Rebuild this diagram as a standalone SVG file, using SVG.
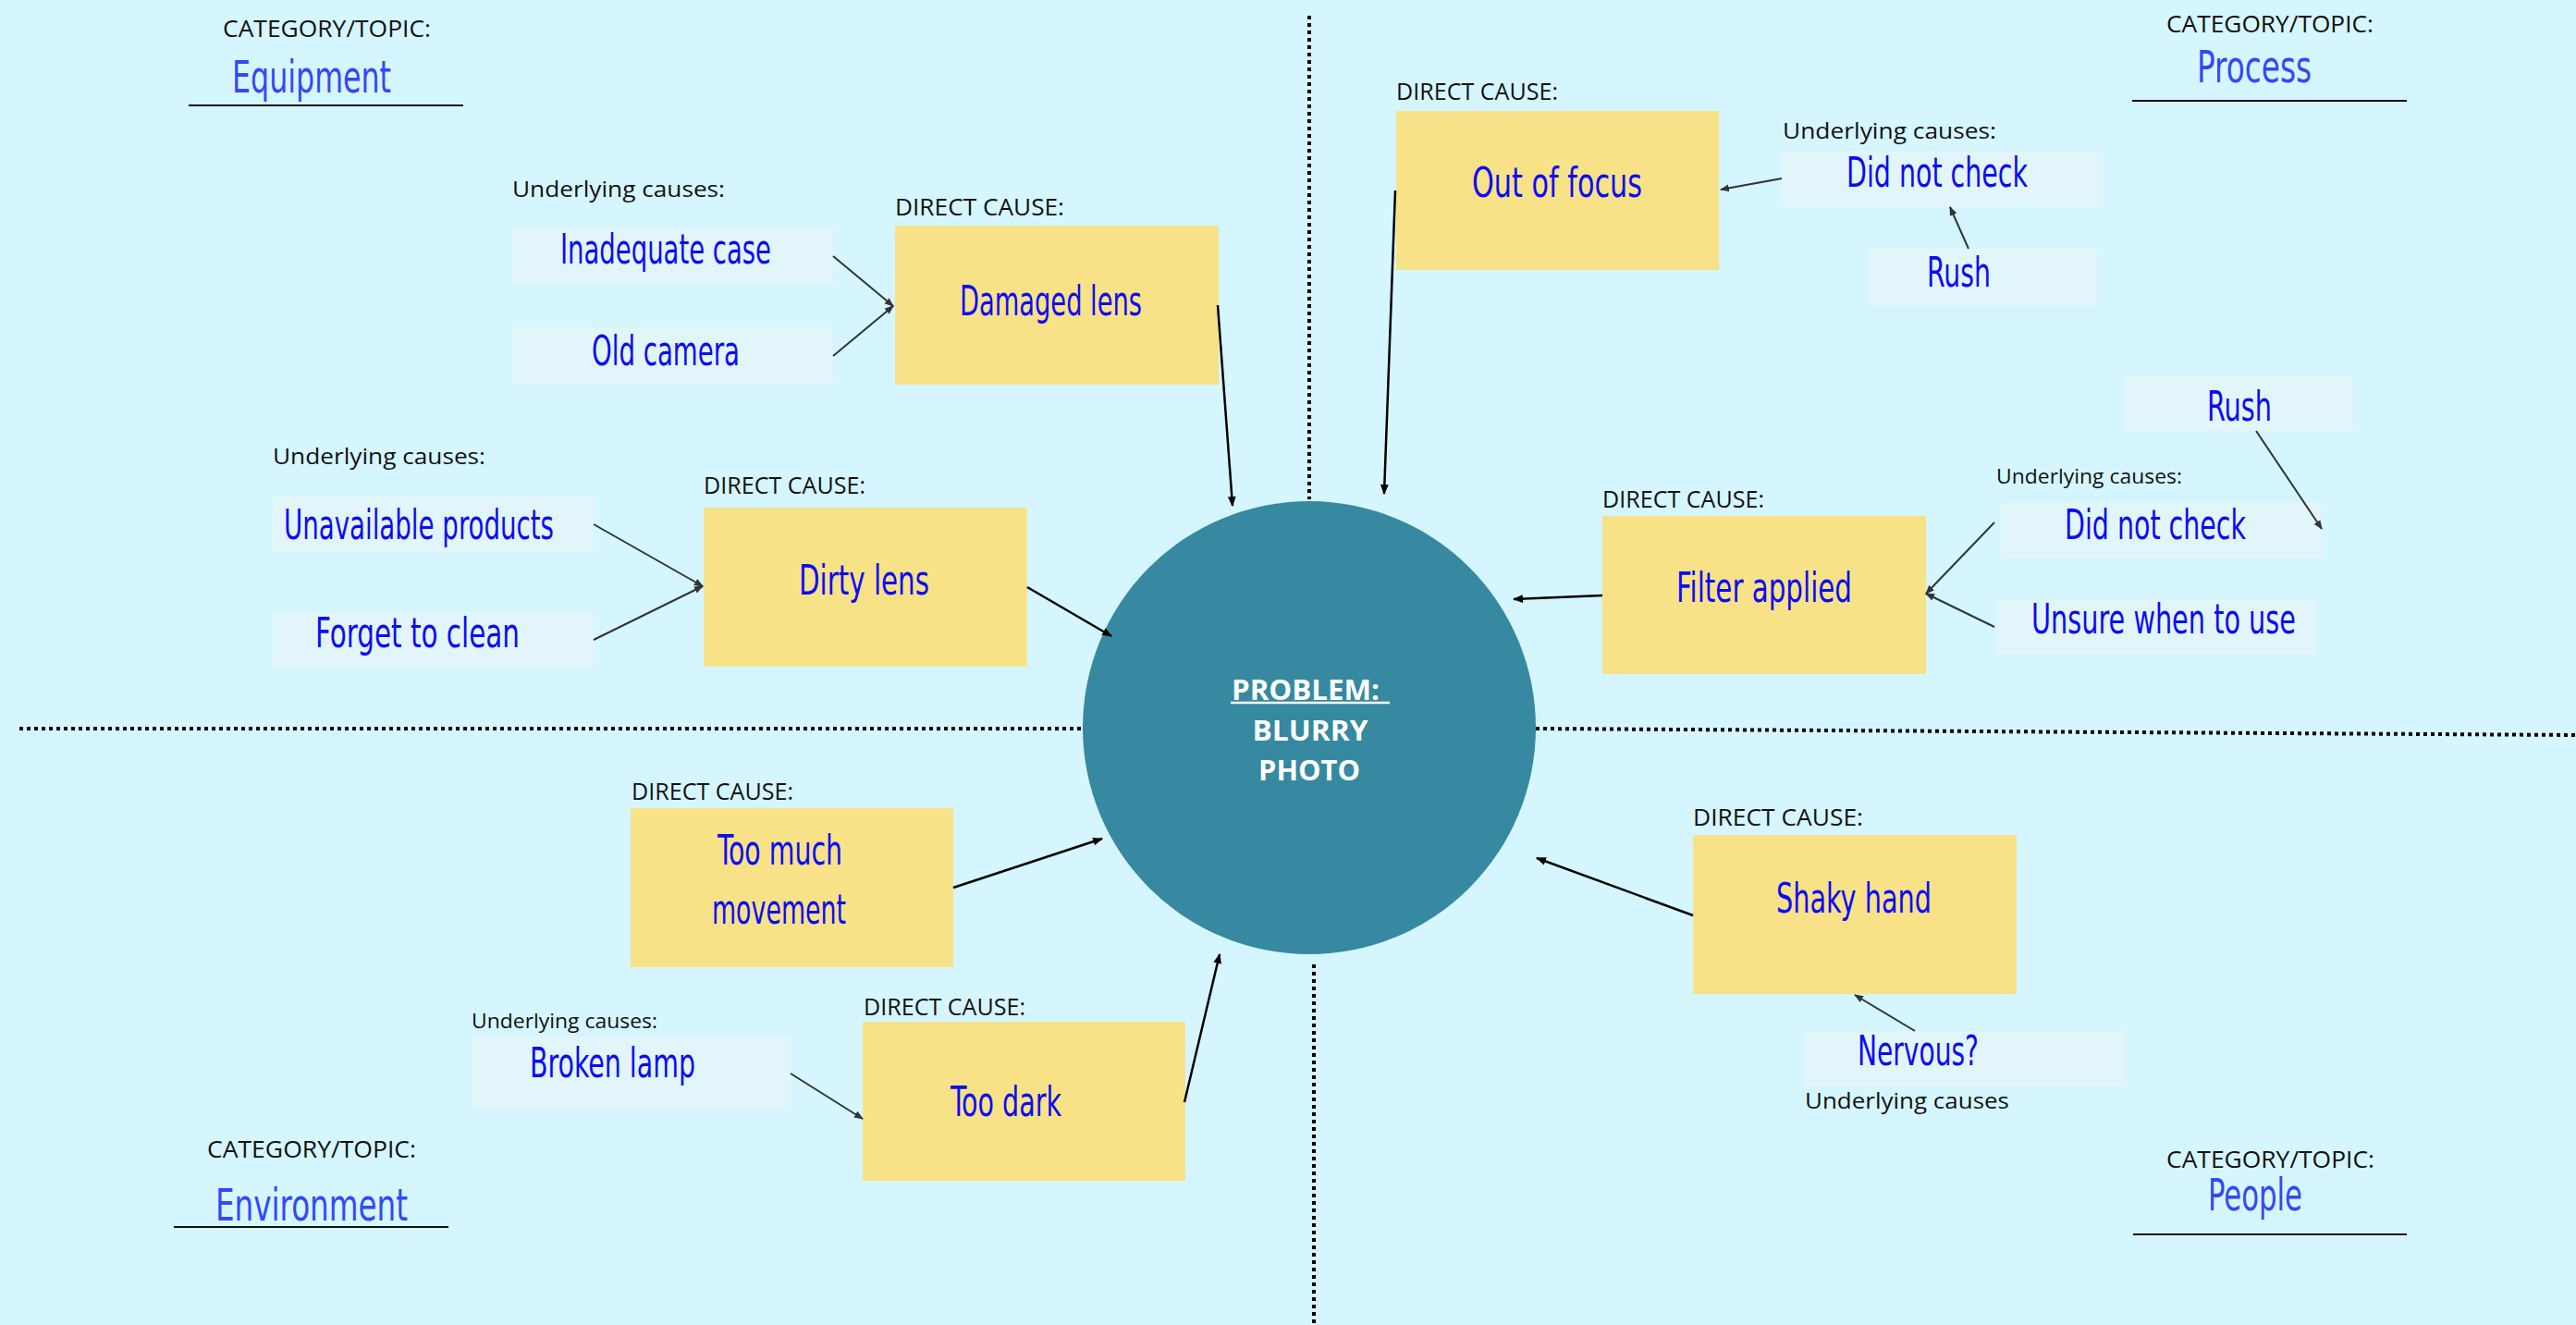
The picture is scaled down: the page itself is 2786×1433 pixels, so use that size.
<svg xmlns="http://www.w3.org/2000/svg" width="2786" height="1433" viewBox="0 0 2786 1433">
<style>
.lbl{font-family:"Open Sans","Liberation Sans",sans-serif;font-size:25px;fill:#111}
.lbls{font-family:"Open Sans","Liberation Sans",sans-serif;font-size:24px;fill:#111}
.lblx{font-family:"Open Sans","Liberation Sans",sans-serif;font-size:21px;fill:#111}
.hw{font-family:"Liberation Sans Narrow","DejaVu Sans Condensed","Liberation Sans",sans-serif;font-size:44px;fill:#0c0cf2}
.cat{font-family:"Liberation Sans Narrow","DejaVu Sans Condensed","Liberation Sans",sans-serif;font-size:48px;fill:#3448f7}
.sticky{fill:#F8E288}
.ubox{fill:#E2F5FA}
.uline{stroke:#111;stroke-width:2}
.cu{stroke:#333;stroke-width:2;fill:none;marker-end:url(#ah)}
.cd{stroke:#000;stroke-width:2.5;fill:none;marker-end:url(#ahd)}
.dots{stroke:#000;stroke-width:4;stroke-dasharray:4 4;fill:none}
.prob{font-family:"Open Sans","Liberation Sans",sans-serif;font-size:30px;font-weight:bold;fill:#fff}
</style>
<defs>
<marker id="ah" viewBox="0 0 10 10" refX="9" refY="5" markerWidth="10" markerHeight="10" markerUnits="userSpaceOnUse" orient="auto"><path d="M0,1 L10,5 L0,9 z" fill="#333"/></marker>
<marker id="ahd" viewBox="0 0 10 10" refX="9" refY="5" markerWidth="11" markerHeight="11" markerUnits="userSpaceOnUse" orient="auto"><path d="M0,1 L10,5 L0,9 z" fill="#000"/></marker>
</defs>
<rect x="0" y="0" width="2786" height="1433" fill="#D5F6FF"/>

<g id="dividers">
<line class="dots" x1="1416" y1="17" x2="1416" y2="540"/>
<line class="dots" x1="1421" y1="1043" x2="1421" y2="1433"/>
<line class="dots" x1="21" y1="788" x2="1172" y2="788"/>
<line class="dots" x1="1661" y1="788" x2="2786" y2="795"/>
</g>

<g id="cat-equipment">
<text class="lbl" x="241" y="40" textLength="225" lengthAdjust="spacingAndGlyphs">CATEGORY/TOPIC:</text>
<text class="cat" x="251" y="100" textLength="172" lengthAdjust="spacingAndGlyphs">Equipment</text>
<line class="uline" x1="204" y1="114" x2="501" y2="114"/>
</g>
<g id="cat-process">
<text class="lbl" x="2343" y="35" textLength="224" lengthAdjust="spacingAndGlyphs">CATEGORY/TOPIC:</text>
<text class="cat" x="2376" y="89" textLength="124" lengthAdjust="spacingAndGlyphs">Process</text>
<line class="uline" x1="2306" y1="109" x2="2603" y2="109"/>
</g>
<g id="cat-environment">
<text class="lbl" x="224" y="1252" textLength="226" lengthAdjust="spacingAndGlyphs">CATEGORY/TOPIC:</text>
<text class="cat" x="233" y="1320" textLength="208" lengthAdjust="spacingAndGlyphs">Environment</text>
<line class="uline" x1="188" y1="1327" x2="485" y2="1327"/>
</g>
<g id="cat-people">
<text class="lbl" x="2343" y="1263" textLength="225" lengthAdjust="spacingAndGlyphs">CATEGORY/TOPIC:</text>
<text class="cat" x="2388" y="1309" textLength="102" lengthAdjust="spacingAndGlyphs">People</text>
<line class="uline" x1="2307" y1="1335" x2="2603" y2="1335"/>
</g>

<g id="problem">
<circle cx="1416" cy="787" r="245" fill="#3689A0"/>
<text class="prob" x="1412" y="757" text-anchor="middle" textLength="160" lengthAdjust="spacingAndGlyphs">PROBLEM:</text>
<line x1="1331" y1="760" x2="1503" y2="760" stroke="#fff" stroke-width="2.5"/>
<text class="prob" x="1417" y="801" text-anchor="middle" textLength="125" lengthAdjust="spacingAndGlyphs">BLURRY</text>
<text class="prob" x="1416" y="844" text-anchor="middle" textLength="110" lengthAdjust="spacingAndGlyphs">PHOTO</text>
</g>

<!-- Equipment -->
<g id="label-ul-equipment-1"><text class="lbls" x="554" y="213" textLength="230" lengthAdjust="spacingAndGlyphs">Underlying causes:</text></g>
<g id="ul-inadequate-case">
<rect class="ubox" x="554" y="246" width="347" height="61"/>
<text class="hw" x="606" y="285" textLength="228" lengthAdjust="spacingAndGlyphs">Inadequate case</text>
</g>
<g id="ul-old-camera">
<rect class="ubox" x="554" y="354" width="347" height="61"/>
<text class="hw" x="640" y="395" textLength="160" lengthAdjust="spacingAndGlyphs">Old camera</text>
</g>
<g id="dc-damaged-lens">
<text class="lbl" x="968" y="233" textLength="183" lengthAdjust="spacingAndGlyphs">DIRECT CAUSE:</text>
<rect class="sticky" x="968" y="244" width="350" height="172"/>
<text class="hw" x="1038" y="341" textLength="197" lengthAdjust="spacingAndGlyphs">Damaged lens</text>
</g>
<g id="label-ul-equipment-2"><text class="lbls" x="295" y="502" textLength="230" lengthAdjust="spacingAndGlyphs">Underlying causes:</text></g>
<g id="ul-unavailable-products">
<rect class="ubox" x="295" y="537" width="347" height="61"/>
<text class="hw" x="307" y="583" textLength="292" lengthAdjust="spacingAndGlyphs">Unavailable products</text>
</g>
<g id="ul-forget-to-clean">
<rect class="ubox" x="295" y="662" width="347" height="61"/>
<text class="hw" x="341" y="700" textLength="221" lengthAdjust="spacingAndGlyphs">Forget to clean</text>
</g>
<g id="dc-dirty-lens">
<text class="lbl" x="761" y="534" textLength="175" lengthAdjust="spacingAndGlyphs">DIRECT CAUSE:</text>
<rect class="sticky" x="761" y="549" width="350" height="172"/>
<text class="hw" x="864" y="643" textLength="141" lengthAdjust="spacingAndGlyphs">Dirty lens</text>
</g>

<!-- Process -->
<g id="dc-out-of-focus">
<text class="lbl" x="1510" y="108" textLength="175" lengthAdjust="spacingAndGlyphs">DIRECT CAUSE:</text>
<rect class="sticky" x="1510" y="120" width="349" height="172"/>
<text class="hw" x="1592" y="213" textLength="184" lengthAdjust="spacingAndGlyphs">Out of focus</text>
</g>
<g id="label-ul-process-1"><text class="lbls" x="1928" y="150" textLength="231" lengthAdjust="spacingAndGlyphs">Underlying causes:</text></g>
<g id="ul-did-not-check-1">
<rect class="ubox" x="1927" y="163" width="347" height="61"/>
<text class="hw" x="1997" y="202" textLength="196" lengthAdjust="spacingAndGlyphs">Did not check</text>
</g>
<g id="ul-rush-1">
<rect class="ubox" x="2020" y="269" width="248" height="62"/>
<text class="hw" x="2084" y="310" textLength="69" lengthAdjust="spacingAndGlyphs">Rush</text>
</g>
<g id="ul-rush-2">
<rect class="ubox" x="2298" y="405" width="247" height="61"/>
<text class="hw" x="2387" y="455" textLength="70" lengthAdjust="spacingAndGlyphs">Rush</text>
</g>
<g id="label-ul-process-2"><text class="lblx" x="2159" y="523" textLength="201" lengthAdjust="spacingAndGlyphs">Underlying causes:</text></g>
<g id="ul-did-not-check-2">
<rect class="ubox" x="2164" y="543" width="347" height="61"/>
<text class="hw" x="2233" y="583" textLength="196" lengthAdjust="spacingAndGlyphs">Did not check</text>
</g>
<g id="ul-unsure-when-to-use">
<rect class="ubox" x="2159" y="647" width="346" height="61"/>
<text class="hw" x="2197" y="685" textLength="286" lengthAdjust="spacingAndGlyphs">Unsure when to use</text>
</g>
<g id="dc-filter-applied">
<text class="lbl" x="1733" y="549" textLength="175" lengthAdjust="spacingAndGlyphs">DIRECT CAUSE:</text>
<rect class="sticky" x="1733" y="558" width="350" height="171"/>
<text class="hw" x="1813" y="651" textLength="190" lengthAdjust="spacingAndGlyphs">Filter applied</text>
</g>

<!-- Environment -->
<g id="dc-too-much-movement">
<text class="lbl" x="683" y="865" textLength="175" lengthAdjust="spacingAndGlyphs">DIRECT CAUSE:</text>
<rect class="sticky" x="682" y="874" width="349" height="172"/>
<text class="hw" x="776" y="935" textLength="135" lengthAdjust="spacingAndGlyphs">Too much</text>
<text class="hw" x="770" y="999" textLength="145" lengthAdjust="spacingAndGlyphs">movement</text>
</g>
<g id="label-ul-environment"><text class="lblx" x="510" y="1112" textLength="201" lengthAdjust="spacingAndGlyphs">Underlying causes:</text></g>
<g id="ul-broken-lamp">
<rect class="ubox" x="510" y="1121" width="345" height="79"/>
<text class="hw" x="573" y="1165" textLength="179" lengthAdjust="spacingAndGlyphs">Broken lamp</text>
</g>
<g id="dc-too-dark">
<text class="lbl" x="934" y="1098" textLength="175" lengthAdjust="spacingAndGlyphs">DIRECT CAUSE:</text>
<rect class="sticky" x="933" y="1105" width="349" height="172"/>
<text class="hw" x="1028" y="1207" textLength="120" lengthAdjust="spacingAndGlyphs">Too dark</text>
</g>

<!-- People -->
<g id="dc-shaky-hand">
<text class="lbl" x="1831" y="893" textLength="184" lengthAdjust="spacingAndGlyphs">DIRECT CAUSE:</text>
<rect class="sticky" x="1831" y="903" width="350" height="172"/>
<text class="hw" x="1921" y="987" textLength="168" lengthAdjust="spacingAndGlyphs">Shaky hand</text>
</g>
<g id="ul-nervous">
<rect class="ubox" x="1952" y="1115" width="347" height="60"/>
<text class="hw" x="2009" y="1152" textLength="131" lengthAdjust="spacingAndGlyphs">Nervous?</text>
<text class="lbls" x="1952" y="1199" textLength="221" lengthAdjust="spacingAndGlyphs">Underlying causes</text>
</g>

<g id="connectors">
<line class="cu" x1="901" y1="277" x2="966" y2="331"/>
<line class="cu" x1="901" y1="385" x2="966" y2="331"/>
<line class="cu" x1="642" y1="567" x2="760" y2="634"/>
<line class="cu" x1="642" y1="692" x2="760" y2="634"/>
<line class="cu" x1="1927" y1="193" x2="1861" y2="205"/>
<line class="cu" x1="2129" y1="269" x2="2109" y2="224"/>
<line class="cu" x1="2440" y1="466" x2="2511" y2="572"/>
<line class="cu" x1="2157" y1="565" x2="2083" y2="642"/>
<line class="cu" x1="2157" y1="678" x2="2083" y2="642"/>
<line class="cu" x1="855" y1="1161" x2="933" y2="1210"/>
<line class="cu" x1="2071" y1="1115" x2="2006" y2="1076"/>
<line class="cd" x1="1317" y1="330" x2="1333" y2="547"/>
<line class="cd" x1="1509" y1="206" x2="1497" y2="534"/>
<line class="cd" x1="1111" y1="635" x2="1202" y2="688"/>
<line class="cd" x1="1733" y1="644" x2="1637" y2="648"/>
<line class="cd" x1="1031" y1="960" x2="1192" y2="907"/>
<line class="cd" x1="1281" y1="1192" x2="1319" y2="1032"/>
<line class="cd" x1="1831" y1="990" x2="1662" y2="928"/>
</g>
</svg>
